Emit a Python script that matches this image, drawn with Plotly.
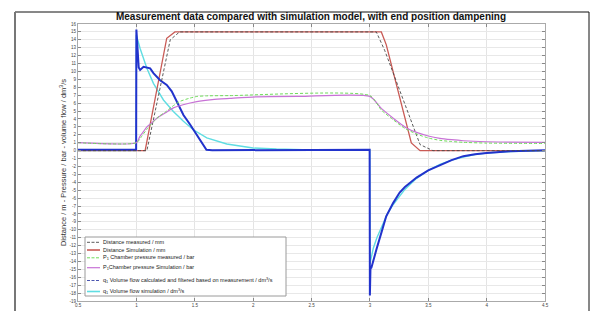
import plotly.graph_objects as go

# ---------------- data ----------------
dist_meas_x = [0.5, 1.09, 1.29, 1.37, 3.055, 3.126, 3.43, 3.54, 4.5]
dist_meas_y = [0, 0, 14.0, 15.0, 15.0, 12.7, 0.76, 0, 0]

dist_sim_x = [0.5, 1.075, 1.26, 1.33, 3.098, 3.14, 3.355, 3.43, 4.5]
dist_sim_y = [0, 0, 14.2, 15.0, 15.0, 13.4, 0.97, 0, 0]

p1_meas_x = [0.5, 1.0, 1.05, 1.1, 1.15, 1.2, 1.25, 1.3, 1.37, 1.45, 1.52, 1.6, 1.8, 3.0,
             3.1, 3.2, 3.3, 3.4, 3.5, 3.6, 3.7, 3.8, 4.0, 4.5]
p1_meas_y = [1.0, 1.0, 1.9, 2.9, 3.7, 4.4, 4.9, 5.5, 6.2, 6.6, 6.85, 6.92, 6.95, 6.95,
             5.1, 3.9, 2.8, 2.1, 1.6, 1.3, 1.15, 1.05, 0.95, 0.9]

p1_sim_x = [0.5, 1.0, 1.03, 1.06, 1.09, 1.13, 1.175, 1.25, 1.317, 1.4, 1.517, 1.65, 1.8, 2.03,
            2.4, 3.0, 3.1, 3.2, 3.31, 3.4, 3.5, 3.6, 3.7, 3.8, 4.0, 4.2, 4.5]
p1_sim_y = [1.0, 1.0, 1.8, 2.4, 3.0, 3.5, 4.1, 4.8, 5.4, 5.8, 6.2, 6.45, 6.6, 6.8,
            6.85, 6.85, 5.3, 4.1, 2.9, 2.3, 1.85, 1.55, 1.38, 1.25, 1.12, 1.07, 1.05]

q1_meas_x = [0.5, 0.998, 1.0, 1.008, 1.02, 1.032, 1.061, 1.118, 1.146, 1.203, 1.26, 1.303,
             1.346, 1.403, 1.46, 1.517, 1.574, 1.6, 1.65, 2.998, 3.0, 3.005, 3.013, 3.03,
             3.056, 3.1, 3.14, 3.2, 3.255, 3.3, 3.4, 3.5, 3.6, 3.7, 3.8, 3.9, 4.0, 4.1,
             4.2, 4.35, 4.5]
q1_meas_y = [0.1, 0.1, 15.3, 13.5, 10.5, 10.2, 10.6, 10.4, 9.8, 8.9, 8.3, 7.5,
             6.2, 4.5, 3.3, 2.0, 0.75, 0.1, 0.05, 0.1, -18.3, -14.9, -14.8, -13.8,
             -12.5, -10.3, -8.3, -6.6, -5.3, -4.6, -3.4, -2.5, -1.8, -1.2, -0.7, -0.45, -0.3, -0.15,
             -0.08, 0.0, 0.05]

q1_sim_x = [0.5, 0.999, 1.0, 1.032, 1.09, 1.146, 1.232, 1.317, 1.403, 1.488, 1.603, 1.774,
            2.0, 2.2, 2.5, 2.999, 3.0, 3.01, 3.03, 3.06, 3.1, 3.15, 3.2, 3.3, 3.4, 3.5,
            3.6, 3.7, 3.8, 3.9, 4.0, 4.2, 4.5]
q1_sim_y = [0, 0, 14.6, 12.9, 10.4, 8.5, 6.4, 4.95, 3.7, 2.64, 1.6, 0.84,
            0.34, 0.2, 0.1, 0.05, -14.3, -13.5, -12.3, -11.0, -9.6, -8.0, -6.8, -4.9, -3.5, -2.5,
            -1.75, -1.2, -0.8, -0.5, -0.32, -0.13, -0.03]

x_ticks = [0.5, 1, 1.5, 2, 2.5, 3, 3.5, 4, 4.5]
x_tick_labels = ["0.5", "1", "1.5", "2", "2.5", "3", "3.5", "4", "4.5"]
y_ticks = list(range(-19, 17))

title_text = "Measurement data compared with simulation model, with end position dampening"
y_label = "Distance / m - Pressure / bar - volume flow / dm<sup>3</sup>/s"

names = ["Distance measured / mm",
         "Distance Simulation / mm",
         "P<sub>1</sub> Chamber pressure measured / bar",
         "P<sub>1</sub>Chamber pressure Simulation / bar",
         "q<sub>1</sub> Volume flow calculated and filtered based on measurement / dm<sup>3</sup>/s",
         "q<sub>1</sub> Volume flow simulation / dm<sup>3</sup>/s"]

# ---------------- figure ----------------
C_DM = "#4a4a4a"
C_DS = "#c95a55"
C_PM = "#6edc5a"
C_PS = "#c873d6"
C_QM = "#2233cc"
C_QS = "#5fdde2"

fig = go.Figure()
fig.add_trace(go.Scatter(x=q1_sim_x, y=q1_sim_y, mode="lines", name=names[5],
                         line=dict(color=C_QS, width=1.4)))
fig.add_trace(go.Scatter(x=dist_sim_x, y=dist_sim_y, mode="lines", name=names[1],
                         line=dict(color=C_DS, width=1.3)))
fig.add_trace(go.Scatter(x=q1_meas_x, y=q1_meas_y, mode="lines", name=names[4],
                         line=dict(color=C_QM, width=2.0)))
fig.add_trace(go.Scatter(x=dist_meas_x, y=dist_meas_y, mode="lines", name=names[0],
                         line=dict(color=C_DM, width=0.9, dash="3px,2px")))
fig.add_trace(go.Scatter(x=p1_sim_x, y=p1_sim_y, mode="lines", name=names[3],
                         line=dict(color=C_PS, width=1.2, shape="spline", smoothing=0.6)))
fig.add_trace(go.Scatter(x=p1_meas_x, y=p1_meas_y, mode="lines", name=names[2],
                         line=dict(color=C_PM, width=1, dash="3px,2px", shape="spline", smoothing=0.6)))

# the page body adds an 8 px offset, so the figure is laid out in page pixels minus 8
OFF = 8
W, H = 598 - OFF, 311 - OFF
L, R, T, B = 78 - OFF, 598 - 545, 24 - OFF, 311 - 301
pw, ph = W - L - R, H - T - B

def px_x(px):
    return (px - OFF - L) / pw

def px_y(py):
    return 1 - (py - OFF - T) / ph

fig.update_layout(
    width=W, height=H,
    margin=dict(l=L, r=R, t=T, b=B, pad=0, autoexpand=False),
    paper_bgcolor="white", plot_bgcolor="white",
    font=dict(family="Liberation Sans, Arial, sans-serif", color="#333"),
    title=dict(text="<b>" + title_text + "</b>", x=(311 - OFF) / W, xanchor="center",
               y=1 - (16.5 - OFF) / H, yanchor="middle",
               font=dict(size=10, color="#111", family="Liberation Sans, Arial, sans-serif")),
    showlegend=False,
)
fig.update_xaxes(range=[0.5, 4.5], tickvals=x_ticks, ticktext=x_tick_labels,
                 showgrid=True, gridcolor="#e4e4e4", gridwidth=1, automargin=False,
                 ticks="inside", ticklen=3, tickcolor="#888", mirror="ticks",
                 showline=True, linecolor="#aaa", linewidth=1,
                 tickfont=dict(size=4.5, color="#444"), zeroline=False)
fig.update_yaxes(range=[-19, 16], tickvals=y_ticks, ticktext=[str(v) for v in y_ticks],
                 showgrid=True, gridcolor="#e8e8e8", gridwidth=1, automargin=False,
                 ticks="inside", ticklen=3, tickcolor="#888", mirror="ticks",
                 showline=True, linecolor="#aaa", linewidth=1,
                 tickfont=dict(size=4.5, color="#444"), zeroline=False,
                 title=dict(text=y_label, font=dict(size=7.5, color="#333"), standoff=1))

# outer frame (figure border as in the reference)
fig.add_shape(type="rect", xref="paper", yref="paper",
              x0=px_x(15), x1=px_x(589), y0=px_y(330), y1=px_y(12),
              line=dict(color="#111", width=1), layer="below")
fig.add_shape(type="line", xref="paper", yref="paper",
              x0=px_x(15), x1=px_x(15), y0=px_y(330), y1=px_y(12),
              line=dict(color="#777", width=2))

# compact legend box (as drawn in the reference)
fig.add_shape(type="rect", xref="paper", yref="paper",
              x0=px_x(85), x1=px_x(286), y0=px_y(296), y1=px_y(237),
              fillcolor="white", line=dict(color="#9a9a9a", width=1), layer="above")
leg_rows = [242.3, 250.0, 257.8, 267.7, 280.5, 291.5]
leg_styles = [(C_DM, 0.9, "dot"), (C_DS, 1.6, "solid"), (C_PM, 1, "dash"),
              (C_PS, 1.2, "solid"), ("#4a55b0", 1, "dash"), (C_QS, 1.6, "solid")]
for row_y, name, (col, wid, dsh) in zip(leg_rows, names, leg_styles):
    fig.add_shape(type="line", xref="paper", yref="paper",
                  x0=px_x(87), x1=px_x(100), y0=px_y(row_y), y1=px_y(row_y),
                  line=dict(color=col, width=wid, dash="3px,1.5px" if dsh != "solid" else "solid"),
                  layer="above")
    fig.add_annotation(xref="paper", yref="paper", x=px_x(100.5), y=px_y(row_y),
                       xanchor="left", yanchor="middle", showarrow=False,
                       text=name, font=dict(size=5.5, color="#222"))

fig.write_html("out.html")
